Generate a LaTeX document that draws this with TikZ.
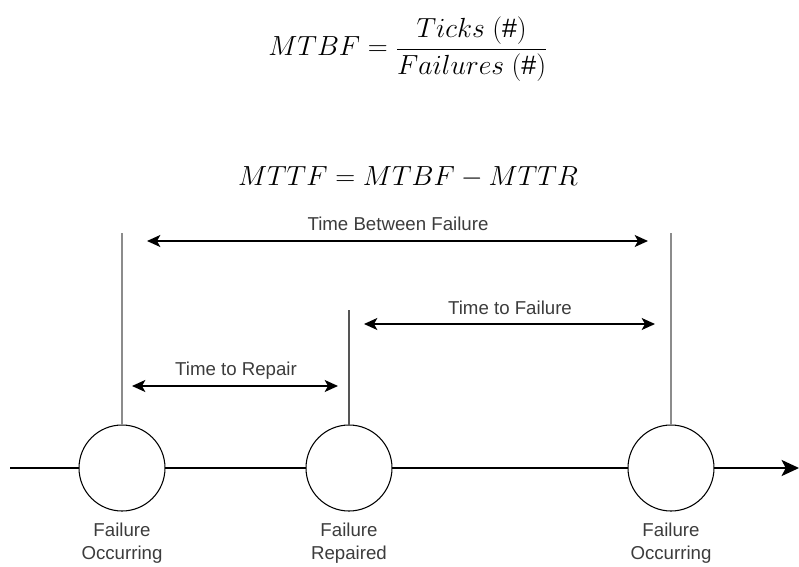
\documentclass[tikz,border=0pt]{standalone}
\usepackage{fontspec}
\setmainfont{Liberation Sans}
\usepackage{amsmath}
\usepackage{tikz}
\usetikzlibrary{arrows.meta,positioning}
\definecolor{ticklight}{HTML}{8C8C8C}
\definecolor{tickdark}{HTML}{555555}
\definecolor{labelgray}{HTML}{3C3C3C}

\begin{document}
\begin{tikzpicture}[x=0.75pt,y=-0.75pt,
	event/.style={circle,draw,line width=0.8pt,fill=white,minimum size=64.5pt,inner sep=0pt,outer sep=0pt},
	lbl/.style={font=\fontsize{14}{17.25}\selectfont,text=labelgray,inner sep=0pt,outer sep=0pt,align=center},
	formula/.style={font=\fontsize{20}{24}\selectfont,inner sep=0pt,anchor=base},
	span/.style={line width=1.1pt,{Stealth[length=10pt,width=9pt,inset=2.5pt]}-{Stealth[length=10pt,width=9pt,inset=2.5pt]}},
	timeline/.style={line width=1.6pt},
	tickline/.style={line width=1.5pt,ticklight},
	midtick/.style={line width=1pt,tickdark}]
\useasboundingbox (0,0) rectangle (799,567);

% formulas
\node[formula] (mtbf) at (408,56) {$MTBF = \dfrac{Ticks\ (\#)}{Failures\ (\#)}$};
\node[formula] (mttf) at (408,185) {$MTTF = MTBF - MTTR$};

% events on the time line
\node[event] (f1) at (122,468) {};
\node[event] (f2) at (349,468) {};
\node[event] (f3) at (671,468) {};

\node[lbl, below=9pt of f1] (l1) {Failure\\Occurring};
\node[lbl, below=9pt of f2] (l2) {Failure\\Repaired};
\node[lbl, below=9pt of f3] (l3) {Failure\\Occurring};

% time line
\coordinate (start) at (10,468);
\coordinate (end) at (799,468);
\draw[timeline] (start) -- (f1.west);
\draw[timeline] (f1.east) -- (f2.west);
\draw[timeline] (f2.east) -- (f3.west);
\draw[timeline,-{Stealth[length=13pt,width=12pt,inset=3pt]}] (f3.east) -- (end);

% markers
\coordinate (t1) at (122,233);
\coordinate (t2) at (349,310);
\coordinate (t3) at (671,233);
\draw[tickline] (t1) -- (f1.north);
\draw[midtick] (t2) -- (f2.north);
\draw[tickline] (t3) -- (f3.north);

% spans
\coordinate (tbf1) at (147,241);
\coordinate (tbf2) at (648,241);
\coordinate (ttf1) at (364,324);
\coordinate (ttf2) at (655,324);
\coordinate (ttr1) at (132,386);
\coordinate (ttr2) at (338,386);
\draw[span] (tbf1) -- (tbf2);
\draw[span] (ttf1) -- (ttf2);
\draw[span] (ttr1) -- (ttr2);
\node[lbl, anchor=base] (tbf) at (398,230) {Time Between Failure};
\node[lbl, anchor=base] (ttf) at (510,314) {Time to Failure};
\node[lbl, anchor=base] (ttr) at (236,375) {Time to Repair};
\end{tikzpicture}
\end{document}
